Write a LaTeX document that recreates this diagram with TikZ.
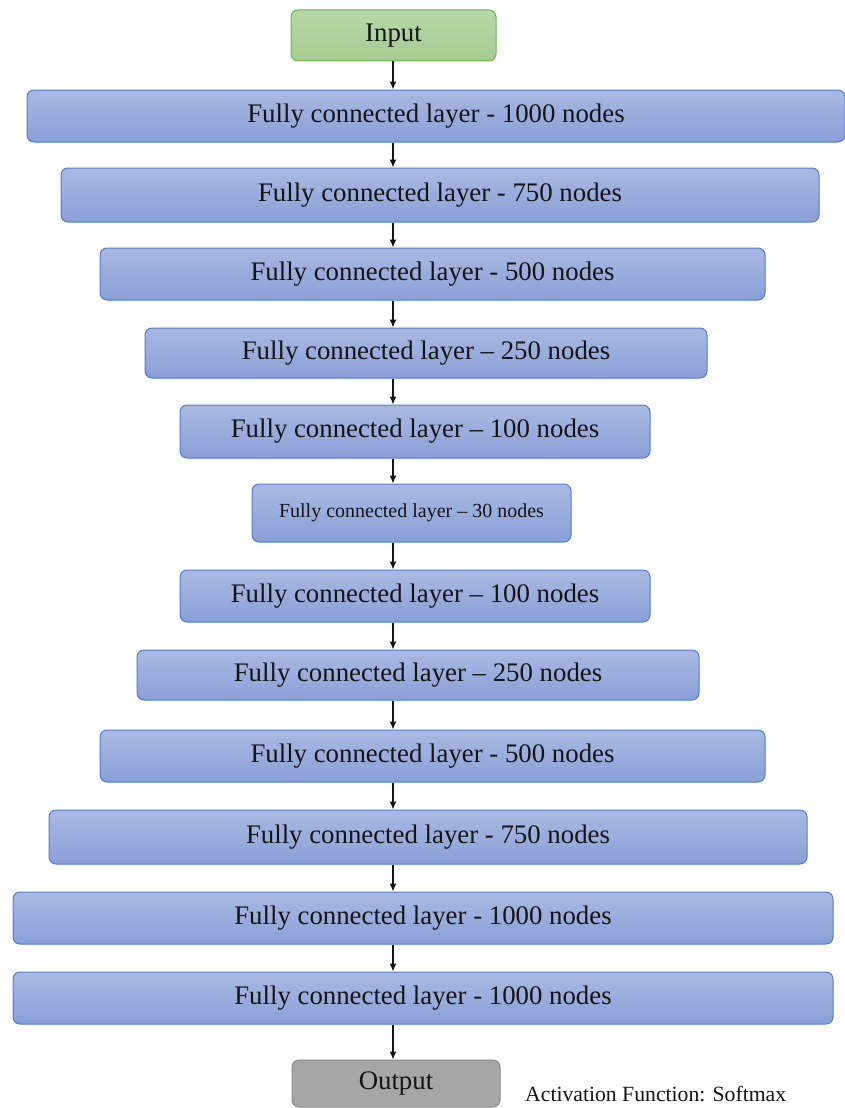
\documentclass[tikz,border=0pt]{standalone}
\usepackage{fontspec}
\setmainfont{Liberation Serif}
\usetikzlibrary{arrows.meta}
\definecolor{layertop}{RGB}{170,185,226}
\definecolor{layerbot}{RGB}{136,159,215}
\definecolor{layerline}{RGB}{82,124,204}
\definecolor{intop}{RGB}{184,216,168}
\definecolor{inbot}{RGB}{164,204,144}
\definecolor{inline}{RGB}{118,176,80}
\definecolor{outfill}{RGB}{166,166,166}
\definecolor{outline}{RGB}{140,140,140}
\definecolor{ink}{RGB}{20,20,20}
\begin{document}
\begin{tikzpicture}[x=1pt,y=-1pt,
  box/.style={rounded corners=7pt, line width=1pt, inner sep=0pt,
    font=\fontsize{26.8}{30}\selectfont, text=ink, anchor=center},
  layer/.style={box, draw=layerline, top color=layertop, bottom color=layerbot},
  inbox/.style={box, draw=inline, top color=intop, bottom color=inbot},
  outbox/.style={box, draw=outline, fill=outfill},
  flow/.style={draw=ink, line width=1.2pt, -{Latex[length=8pt,width=7pt]}}]
\useasboundingbox (0,0) rectangle (844,1108);
% boxes: (left+right)/2, (top+bottom)/2, width, height
\newcommand{\lbox}[7]{\node[#6, minimum width=#3pt, minimum height=#4pt] (#5) at (#1,#2) {#7};}
\lbox{393.5}{35.5}{205}{51}{in}{inbox}{Input}
\lbox{436}{116}{818}{52}{l1}{layer}{Fully connected layer - 1000 nodes}
\lbox{440}{195}{758}{54}{l2}{layer}{Fully connected layer - 750 nodes}
\lbox{432.5}{274}{665}{52}{l3}{layer}{Fully connected layer - 500 nodes}
\lbox{426}{353}{562}{50}{l4}{layer}{Fully connected layer -- 250 nodes}
\lbox{415}{431.5}{470}{53}{l5}{layer}{Fully connected layer -- 100 nodes}
\lbox{411.5}{513}{319}{58}{l6}{layer}{\fontsize{20}{23}\selectfont Fully connected layer -- 30 nodes}
\lbox{415}{596}{470}{52}{l7}{layer}{Fully connected layer -- 100 nodes}
\lbox{418}{675}{562}{50}{l8}{layer}{Fully connected layer -- 250 nodes}
\lbox{432.5}{756}{665}{52}{l9}{layer}{Fully connected layer - 500 nodes}
\lbox{428}{837}{758}{54}{l10}{layer}{Fully connected layer - 750 nodes}
\lbox{423}{918}{820}{52}{l11}{layer}{Fully connected layer - 1000 nodes}
\lbox{423}{998}{820}{52}{l12}{layer}{Fully connected layer - 1000 nodes}
\lbox{396}{1083.5}{208}{47}{out}{outbox}{Output}
\node[font=\fontsize{21.7}{25}\selectfont, text=ink, anchor=base west, inner sep=0pt] (act) at (525,1101) {Activation Function: Softmax};
% all arrows run down one common vertical line
\coordinate (spine) at (393,0);
\foreach \a/\b in {in/l1,l1/l2,l2/l3,l3/l4,l4/l5,l5/l6,l6/l7,l7/l8,l8/l9,l9/l10,l10/l11,l11/l12,l12/out}
  \draw[flow] (\a.south -| spine) -- (\b.north -| spine);
\end{tikzpicture}
\end{document}
